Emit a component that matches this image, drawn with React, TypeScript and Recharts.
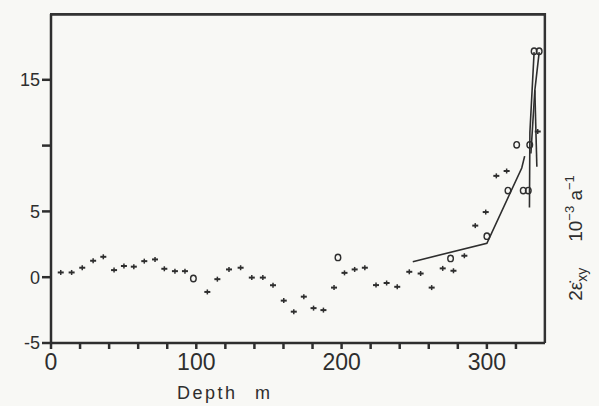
import React from "react";
import {
  ComposedChart,
  Scatter,
  Line,
  XAxis,
  YAxis,
  ReferenceLine,
} from "recharts";

// strain-rate measurements (+ markers)
const crossDepth = [
  6.7, 14.2, 21.5, 29, 36, 43.4, 50.2, 57, 64.2, 71.6, 78, 85.3, 92.2, 107.6,
  114.5, 122.5, 130.5, 138.2, 145.8, 152.8, 160.2, 167.1, 174, 180.7, 187.5,
  194.8, 202, 209, 216, 223.7, 231, 238.3, 246.6, 254.4, 262, 269.6, 277,
  284.5, 292, 299.2, 306.5, 313.6, 335,
];
const crossRate = [
  0.36, 0.36, 0.72, 1.25, 1.55, 0.54, 0.85, 0.8, 1.22, 1.35, 0.64, 0.46, 0.46,
  -1.12, -0.15, 0.59, 0.72, -0.03, -0.03, -0.61, -1.78, -2.62, -1.48, -2.35,
  -2.5, -0.79, 0.33, 0.59, 0.72, -0.6, -0.44, -0.73, 0.41, 0.28, -0.79, 0.67,
  0.49, 1.63, 3.92, 4.95, 7.7, 8.07, 11.07,
];

// open circle markers
const circleDepth = [98, 197.5, 275, 300, 314.5, 325, 328.5, 320.5, 329.5, 332.5, 336];
const circleRate = [-0.1, 1.5, 1.43, 3.12, 6.58, 6.58, 6.58, 10.06, 10.06, 17.17, 17.17];

// fitted curve pieces
const trendDepth = [249, 300, 324, 326];
const trendRate = [1.18, 2.58, 8.3, 9.2];
const leftDepth = [332.5, 329.6, 329.3];
const leftRate = [17.1, 11, 5.3];
const rightDepth = [336, 333, 330.3];
const rightRate = [17.1, 14.2, 9.4];
const branchDepth = [333, 334.4];
const branchRate = [14.2, 8.4];

const xTicks = [0, 20, 40, 60, 80, 100, 120, 140, 160, 180, 200, 220, 240, 260, 280, 300, 320];
const yTicks = [-5, 0, 5, 10, 15];

const zip = (xs: number[], ys: number[]) => xs.map((x, i) => ({ x, y: ys[i] }));

const crosses = zip(crossDepth, crossRate);
const circles = zip(circleDepth, circleRate);
const trend = zip(trendDepth, trendRate);
const leftStrand = zip(leftDepth, leftRate);
const rightStrand = zip(rightDepth, rightRate);
const branch = zip(branchDepth, branchRate);

const ink = "#2e2e2e";

const Plus = (props: any) => {
  const { cx, cy } = props;
  return (
    <g>
      <line x1={cx - 3} x2={cx + 3} y1={cy} y2={cy} stroke={ink} strokeWidth={2} />
      <line x1={cx} x2={cx} y1={cy - 2.5} y2={cy + 2.5} stroke={ink} strokeWidth={1.5} />
    </g>
  );
};

const Ring = (props: any) => {
  const { cx, cy } = props;
  return <ellipse cx={cx} cy={cy} rx={2.8} ry={3.2} fill="none" stroke={ink} strokeWidth={1.4} />;
};

export default function App() {
  const font = "'Liberation Sans', Arial, sans-serif";
  return (
    <div
      style={{
        position: "absolute",
        left: 0,
        top: 0,
        width: 599,
        height: 406,
        background: "#f8f8f5",
        fontFamily: font,
        color: ink,
        overflow: "hidden",
      }}
    >
      <ComposedChart
        width={599}
        height={406}
        margin={{ top: 14, right: 54, left: 0, bottom: 23 }}
      >
        <XAxis
          dataKey="x"
          type="number"
          domain={[0, 340]}
          ticks={xTicks}
          interval={0}
          tickFormatter={(v: number) => (v % 100 === 0 ? String(v) : "")}
          height={40}
          tickSize={6}
          tickMargin={5}
          stroke={ink}
          strokeWidth={2.5}
          tick={{ fill: ink, fontSize: 23, fontFamily: font }}
        />
        <YAxis
          dataKey="y"
          type="number"
          domain={[-5, 20]}
          ticks={yTicks}
          interval={0}
          tickFormatter={(v: number) => (v === 10 ? "" : String(v))}
          width={51}
          tickSize={9}
          tickMargin={2}
          stroke={ink}
          strokeWidth={2.5}
          tick={{ fill: ink, fontSize: 18, fontFamily: font }}
        />
        <ReferenceLine y={19.95} stroke="#2e2e2e" strokeWidth={2} ifOverflow="extendDomain" />
        <ReferenceLine x={339.8} stroke="#2e2e2e" strokeWidth={2} ifOverflow="extendDomain" />
        <Line data={trend} dataKey="y" stroke={ink} strokeWidth={1.6} dot={false} type="linear" isAnimationActive={false} />
        <Line data={leftStrand} dataKey="y" stroke={ink} strokeWidth={1.6} dot={false} type="linear" isAnimationActive={false} />
        <Line data={rightStrand} dataKey="y" stroke={ink} strokeWidth={1.6} dot={false} type="linear" isAnimationActive={false} />
        <Line data={branch} dataKey="y" stroke={ink} strokeWidth={1.6} dot={false} type="linear" isAnimationActive={false} />
        <Scatter data={crosses} dataKey="y" shape={Plus} isAnimationActive={false} />
        <Scatter data={circles} dataKey="y" shape={Ring} isAnimationActive={false} />
      </ComposedChart>
      {/* top and right edges of the plot frame */}
      <svg
        width={599}
        height={406}
        style={{ position: "absolute", left: 0, top: 0, zIndex: 3, pointerEvents: "none" }}
      >
        <polyline points="50,14 545,14 545,343" fill="none" stroke="#333333" strokeWidth={2.2} />
      </svg>
      <div style={{ position: "absolute", left: 177, top: 383, fontSize: 18, letterSpacing: 2.5 }}>
        Depth
      </div>
      <div style={{ position: "absolute", left: 255, top: 383, fontSize: 18 }}>m</div>
      <div
        style={{
          position: "absolute",
          left: 576,
          top: 238,
          width: 170,
          textAlign: "center",
          fontSize: 19,
          whiteSpace: "nowrap",
          transform: "translate(-50%, -50%) rotate(-90deg)",
        }}
      >
        2ε̇<sub style={{ fontSize: 14 }}>xy</sub>
        <span style={{ display: "inline-block", width: 26 }} />
        10<sup style={{ fontSize: 13 }}>−3</sup> a<sup style={{ fontSize: 13 }}>−1</sup>
      </div>
    </div>
  );
}
